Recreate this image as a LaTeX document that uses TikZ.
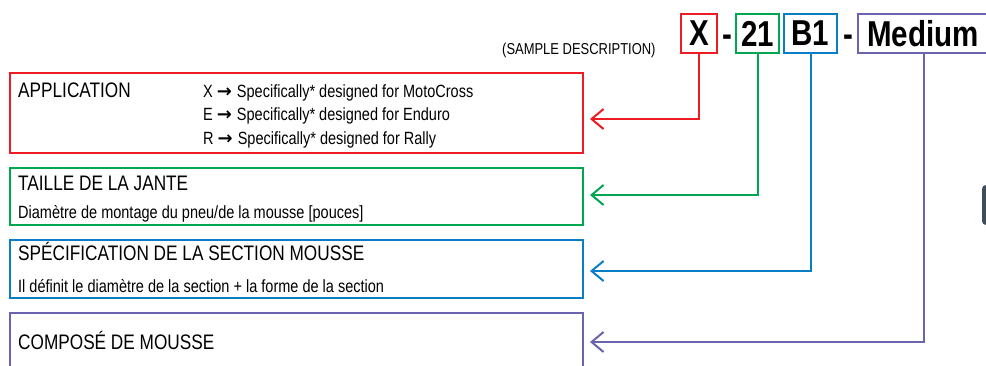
\documentclass[tikz,border=0pt]{standalone}
\usepackage{fontspec}
\newfontfamily\cond[FakeStretch=0.82]{Liberation Sans}
\newfontfamily\arrfont{DejaVu Sans}
\newcommand{\myarr}{\hspace{4pt}{\arrfont\bfseries\fontsize{18}{20}\selectfont →}\hspace{5pt}}
\usetikzlibrary{arrows.meta}
\definecolor{cred}{HTML}{ED1C24}
\definecolor{cgreen}{HTML}{00A650}
\definecolor{cblue}{HTML}{0A7DC7}
\definecolor{cpurple}{HTML}{6A63B0}
\definecolor{cgray}{HTML}{3E4E58}
\begin{document}
\begin{tikzpicture}[x=1pt,y=-1pt,
  bigbox/.style={draw=#1, line width=2pt, inner sep=0pt, minimum width=573pt, anchor=north west},
  codebox/.style={draw=#1, line width=2pt, inner sep=0pt, minimum height=39pt, font=\cond\bfseries\fontsize{36}{40}\selectfont},
  head/.style={anchor=base west, inner sep=0pt, font=\cond\fontsize{21}{25}\selectfont},
  small/.style={anchor=base west, inner sep=0pt, font=\cond\fontsize{17.7}{21}\selectfont},
  conn/.style={draw=#1, line width=2pt, -{Straight Barb[length=12pt,width=20pt]}},
  dashtxt/.style={inner sep=0pt, anchor=base, font=\cond\bfseries\fontsize{36}{40}\selectfont}]
\useasboundingbox (0,0) rectangle (986,365);
\clip (0,0) rectangle (986,365);

% descriptive boxes
\node[bigbox=cred, minimum height=80pt] (app) at (9,72) {};
\node[bigbox=cgreen, minimum height=57pt] (rim) at (9,167) {};
\node[bigbox=cblue, minimum height=58pt] (sec) at (9,239) {};
\node[bigbox=cpurple, minimum height=80pt] (cmp) at (9,312) {};

% texts
\node[head] (appT) at (18,97) {APPLICATION};
\node[small] (l1) at (203,97) {X\myarr Specifically* designed for MotoCross};
\node[small] (l2) at (203,120) {E\myarr Specifically* designed for Enduro};
\node[small] (l3) at (203,144) {R\myarr Specifically* designed for Rally};
\node[head] (rimT) at (18,190) {TAILLE DE LA JANTE};
\node[small] (rimS) at (18,218) {Diamètre de montage du pneu/de la mousse [pouces]};
\node[head] (secT) at (18,260) {SPÉCIFICATION DE LA SECTION MOUSSE};
\node[small] (secS) at (18,292) {Il définit le diamètre de la section + la forme de la section};
\node[head] (cmpT) at (18,349) {COMPOSÉ DE MOUSSE};

\node[small, font=\cond\fontsize{15.8}{19}\selectfont] (sample) at (502,54) {(SAMPLE DESCRIPTION)};

% code
\node[codebox=cred, minimum width=36pt] (cX) at (699,33.5) {X};
\node[codebox=cgreen, minimum width=43pt] (c21) at (757.5,33.5) {21};
\node[codebox=cblue, minimum width=53pt] (cB1) at (810.5,33.5) {B1};
\node[codebox=cpurple, anchor=west, inner xsep=9pt] (cMed) at (857,33.5) {Medium};
\node[dashtxt] (d1) at (727,46) {-};
\node[dashtxt] (d2) at (848,46) {-};

% arrow ends
\coordinate (tApp) at (590,119);
\coordinate (tRim) at (590,195);
\coordinate (tSec) at (590,271);
\coordinate (tCmp) at (590,342);

\draw[conn=cred] (cX.south) |- (tApp);
\draw[conn=cgreen] (c21.south) |- (tRim);
\draw[conn=cblue] (cB1.south) |- (tSec);
\draw[conn=cpurple] ([xshift=1pt]cMed.south) |- (tCmp);

% clipped fragment at right edge
\fill[cgray, rounded corners=4pt] (982,185) rectangle (995,225);
\end{tikzpicture}
\end{document}
